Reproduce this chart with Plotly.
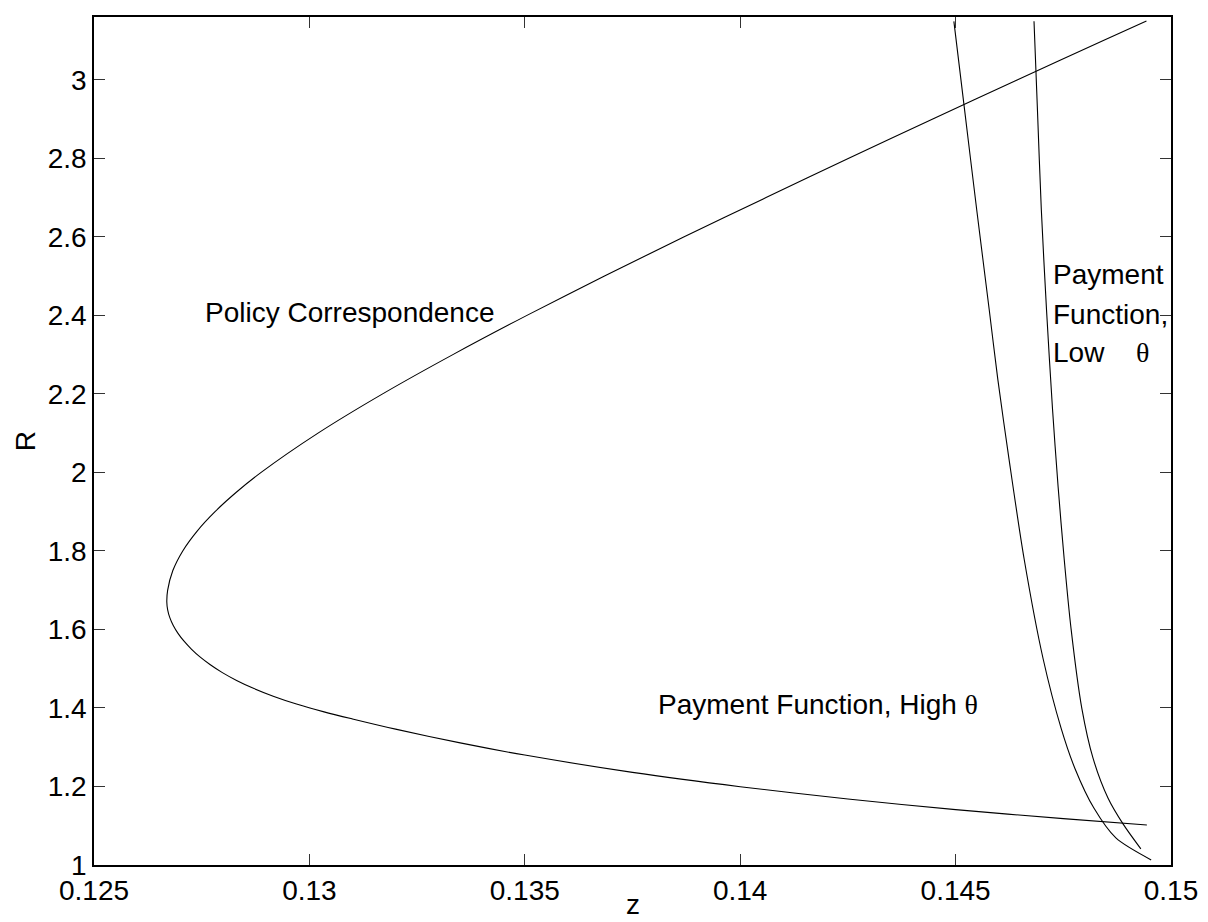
import plotly.graph_objects as go

# ---- data ----
# Policy correspondence: lower branch (right -> vertex) then upper branch (vertex -> top right)
policy_z = [0.14944, 0.1475, 0.145, 0.1425, 0.14, 0.1375, 0.135, 0.1335, 0.132, 0.131,
            0.13034, 0.1297, 0.12916, 0.1287, 0.12831, 0.12798, 0.1277, 0.12746, 0.12726,
            0.12709, 0.12695, 0.12684, 0.12676, 0.12671, 0.12669,
            0.12671, 0.12683, 0.12706, 0.12739, 0.12781, 0.12831, 0.12888, 0.1302, 0.1317,
            0.13333, 0.13505, 0.13685, 0.1387, 0.1406, 0.14252, 0.14447, 0.14644, 0.14843,
            0.14943]
policy_R = [1.102, 1.118, 1.141, 1.168, 1.1995, 1.236, 1.280, 1.311, 1.346, 1.372,
            1.39, 1.41, 1.43, 1.45, 1.47, 1.49, 1.51, 1.53, 1.55,
            1.57, 1.59, 1.61, 1.63, 1.65, 1.67,
            1.70, 1.75, 1.80, 1.85, 1.90, 1.95, 2.0, 2.1, 2.2,
            2.3, 2.4, 2.5, 2.6, 2.7, 2.8, 2.9, 3.0, 3.1,
            3.15]

low_theta_z = [0.14682, 0.1469, 0.14699, 0.14711, 0.14725, 0.14738, 0.14752, 0.14768,
               0.14793, 0.14819, 0.14854, 0.14889, 0.1493]
low_theta_R = [3.149, 2.923, 2.669, 2.415, 2.161, 1.963, 1.78, 1.602,
               1.399, 1.272, 1.17, 1.104, 1.041]

high_theta_z = [0.14496, 0.14521, 0.14549, 0.14578, 0.14598, 0.14624, 0.14659, 0.14703,
                0.14745, 0.14777, 0.14821, 0.14872, 0.14954]
high_theta_R = [3.149, 2.922, 2.669, 2.415, 2.237, 2.034, 1.78, 1.526,
                1.348, 1.246, 1.145, 1.069, 1.013]

x_tickvals = [0.125, 0.13, 0.135, 0.14, 0.145, 0.15]
x_ticktext = ["0.125", "0.13", "0.135", "0.14", "0.145", "0.15"]
y_tickvals = [1, 1.2, 1.4, 1.6, 1.8, 2, 2.2, 2.4, 2.6, 2.8, 3]
y_ticktext = ["1", "1.2", "1.4", "1.6", "1.8", "2", "2.2", "2.4", "2.6", "2.8", "3"]

FONT = "Liberation Sans, Arial, Helvetica, sans-serif"
SERIF = "Liberation Serif, Times New Roman, serif"
FS = 28

fig = go.Figure()
line_style = dict(color="black", width=1.1, shape="spline", smoothing=0.8)
fig.add_trace(go.Scatter(x=policy_z, y=policy_R, mode="lines", line=line_style,
                         name="Policy Correspondence", showlegend=False))
fig.add_trace(go.Scatter(x=low_theta_z, y=low_theta_R, mode="lines", line=line_style,
                         name="Payment Function, Low θ", showlegend=False))
fig.add_trace(go.Scatter(x=high_theta_z, y=high_theta_R, mode="lines", line=line_style,
                         name="Payment Function, High θ", showlegend=False))

def note(text, x, y, xanchor="left", font=FONT):
    fig.add_annotation(x=x, y=y, xref="x", yref="y", text=text, showarrow=False,
                       xanchor=xanchor, yanchor="middle",
                       font=dict(family=font, size=FS, color="black"))

note("Policy Correspondence", 0.12753, 2.407)
note("Payment", 0.14722, 2.503)
note("Function,", 0.14722, 2.402)
note("Low", 0.14722, 2.305)
note("θ", 0.14933, 2.305, xanchor="center", font=SERIF)
note("Payment Function, High <span style='font-family:Liberation Serif'>θ</span>", 0.13805, 1.41)

# x-axis title "z" placed just below the tick labels
fig.add_annotation(x=0.5, y=-0.046, xref="paper", yref="paper", text="z", showarrow=False,
                   xanchor="center", yanchor="middle",
                   font=dict(family=FONT, size=FS, color="black"))

axis_common = dict(showgrid=False, zeroline=False, showline=True, linecolor="black",
                   linewidth=1.5, mirror="ticks", ticks="inside", ticklen=11,
                   tickwidth=1, tickcolor="#333333",
                   tickfont=dict(family=FONT, size=FS, color="black"))

fig.update_xaxes(range=[0.125, 0.15], tickvals=x_tickvals, ticktext=x_ticktext,
                 **axis_common)
fig.update_yaxes(range=[1, 3.16], tickvals=y_tickvals, ticktext=y_ticktext,
                 title=dict(text="R", font=dict(family=FONT, size=FS, color="black"), standoff=4),
                 **axis_common)

fig.update_layout(width=1208, height=922, plot_bgcolor="white", paper_bgcolor="white",
                  margin=dict(l=86, r=45, t=7, b=65), showlegend=False)

fig.write_html("out.html", config={"displayModeBar": False})
